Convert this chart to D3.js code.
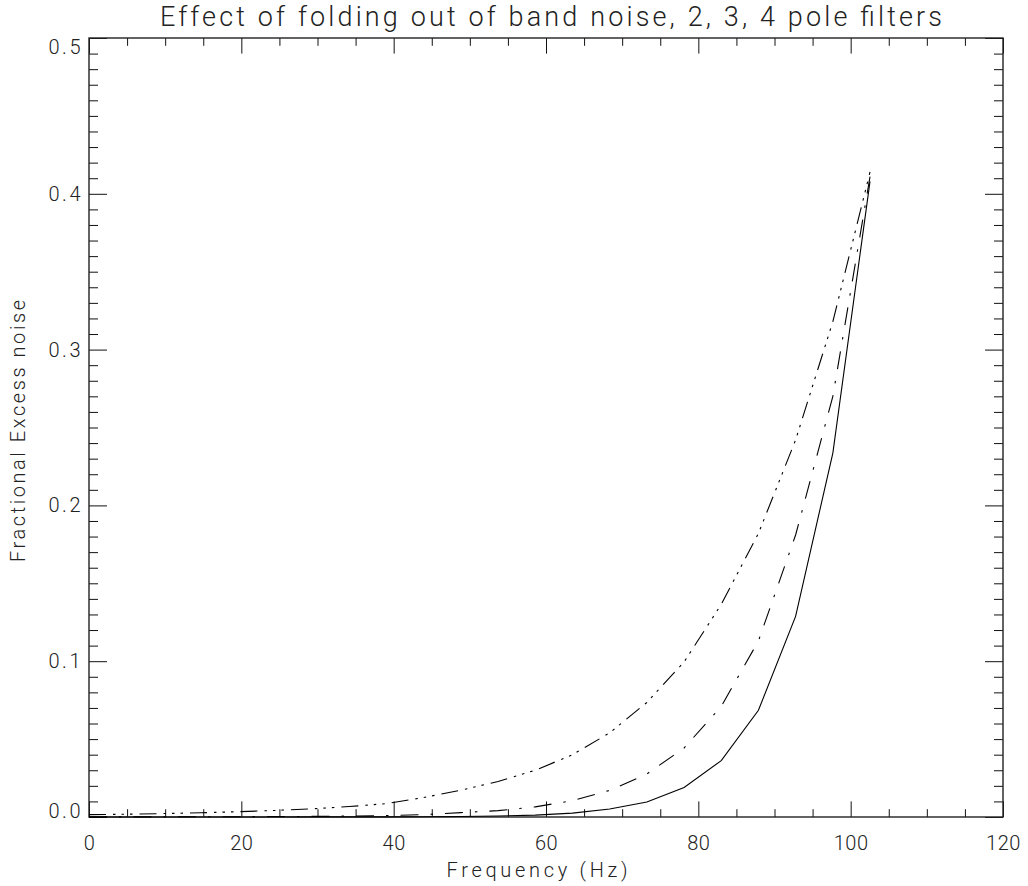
<!DOCTYPE html>
<html lang="en">
<head>
<meta charset="utf-8">
<title>Effect of folding out of band noise</title>
<script src="https://d3js.org/d3.v7.min.js"></script>
<style>
  body { margin: 0; background: #fff; }
  text { font-family: Roboto, "DejaVu Sans", sans-serif; font-weight: 300; fill: #222; }
</style>
</head>
<body>
<div id="chart"></div>
<script>

// frequency points (Hz)
var freq = [0, 4.88, 9.77, 14.65, 19.53, 24.41, 29.30, 34.18, 39.06, 43.95, 48.83,
            53.71, 58.59, 63.48, 68.36, 73.24, 78.13, 83.01, 87.89, 92.77, 97.66, 102.54];

// fractional excess noise, 2 pole filter (dash dot dot dot)
var pole2 = [0.0015, 0.0018, 0.0022, 0.0027, 0.0034, 0.0042, 0.0053, 0.0067, 0.0086, 0.0125, 0.0172,
             0.0228, 0.0300, 0.0400, 0.0540, 0.0735, 0.0995, 0.1365, 0.1820, 0.2420, 0.3180, 0.4140];

// 3 pole filter (dash dot)
var pole3 = [0.0001, 0.0001, 0.0001, 0.0002, 0.0002, 0.0003, 0.0004, 0.0006, 0.0009, 0.0015, 0.0028,
             0.0041, 0.0065, 0.0105, 0.0171, 0.0276, 0.0443, 0.0710, 0.1130, 0.1810, 0.2700, 0.4110];

// 4 pole filter (solid)
var pole4 = [0, 0, 0, 0, 0, 0, 0.0001, 0.0001, 0.0001, 0.0002, 0.0003,
             0.0006, 0.0012, 0.0025, 0.0051, 0.0096, 0.0190, 0.0362, 0.0685, 0.1288, 0.2336, 0.4080];

var xMajor = [0, 20, 40, 60, 80, 100, 120];
var yMajor = [0, 0.1, 0.2, 0.3, 0.4, 0.5];

var margin = {top: 38, right: 25, bottom: 69, left: 89},
    width = 1028 - margin.left - margin.right,
    height = 886 - margin.top - margin.bottom;

var svg = d3.select("#chart")
  .append("svg")
    .attr("width", 1028)
    .attr("height", 886);

var g = svg.append("g")
    .attr("transform", "translate(" + margin.left + "," + margin.top + ")");

var x = d3.scaleLinear().domain([0, 120]).range([0, width]);
var y = d3.scaleLinear().domain([0, 0.5]).range([height, 0]);

// tick lengths (ticks point into the box)
var xTickLen = 15.6, yTickLen = 18;

var xMinor = d3.range(0, 121, 5).filter(function(d) { return d % 20 !== 0; });
var yMinor = d3.range(0, 51).map(function(d) { return d / 100; })
  .filter(function(d) { return Math.round(d * 100) % 10 !== 0; });

function styleAxis(sel) {
  sel.select(".domain").remove();
  sel.selectAll(".tick line").attr("stroke", "#111").attr("stroke-width", 1);
  sel.selectAll("text").attr("font-size", 20).attr("fill", "#222");
}

// bottom axis
g.append("g")
  .attr("transform", "translate(0," + height + ")")
  .call(d3.axisBottom(x).tickValues(xMajor).tickSize(-xTickLen).tickSizeOuter(0)
        .tickPadding(19).tickFormat(d3.format("d")))
  .call(styleAxis)
  .selectAll("text").attr("letter-spacing", 0.5);
g.append("g")
  .attr("transform", "translate(0," + height + ")")
  .call(d3.axisBottom(x).tickValues(xMinor).tickSize(-xTickLen / 2).tickSizeOuter(0).tickFormat(""))
  .call(styleAxis);

// top axis (no labels)
g.append("g")
  .call(d3.axisTop(x).tickValues(xMajor).tickSize(-xTickLen).tickSizeOuter(0).tickFormat(""))
  .call(styleAxis);
g.append("g")
  .call(d3.axisTop(x).tickValues(xMinor).tickSize(-xTickLen / 2).tickSizeOuter(0).tickFormat(""))
  .call(styleAxis);

// left axis
var yAxis = g.append("g")
  .call(d3.axisLeft(y).tickValues(yMajor).tickSize(-yTickLen).tickSizeOuter(0)
        .tickPadding(6).tickFormat(d3.format(".1f")))
  .call(styleAxis);
yAxis.selectAll(".tick text").attr("letter-spacing", 2.5);
// end labels are kept inside the axis range
yAxis.selectAll(".tick text")
  .filter(function(d) { return d === 0; }).attr("dy", "0em");
yAxis.selectAll(".tick text")
  .filter(function(d) { return d === 0.5; }).attr("dy", "0.76em");
g.append("g")
  .call(d3.axisLeft(y).tickValues(yMinor).tickSize(-yTickLen / 2).tickSizeOuter(0).tickFormat(""))
  .call(styleAxis);

// right axis (no labels)
g.append("g")
  .attr("transform", "translate(" + width + ",0)")
  .call(d3.axisRight(y).tickValues(yMajor).tickSize(-yTickLen).tickSizeOuter(0).tickFormat(""))
  .call(styleAxis);
g.append("g")
  .attr("transform", "translate(" + width + ",0)")
  .call(d3.axisRight(y).tickValues(yMinor).tickSize(-yTickLen / 2).tickSizeOuter(0).tickFormat(""))
  .call(styleAxis);

// box
g.append("rect")
  .attr("x", 0).attr("y", 0)
  .attr("width", width).attr("height", height)
  .attr("fill", "none")
  .attr("stroke", "#222")
  .attr("stroke-width", 1.4);

// curves
var series = [
  {values: pole4, dash: null},
  {values: pole3, dash: "18,12,2.5,12"},
  {values: pole2, dash: "17,7,2.5,6,2.5,6,2.5,7"}
];

var line = d3.line()
  .x(function(d, i) { return x(freq[i]); })
  .y(function(d) { return y(d); });

series.forEach(function(s) {
  g.append("path")
    .datum(s.values)
    .attr("fill", "none")
    .attr("stroke", "#000")
    .attr("stroke-width", 1.1)
    .attr("stroke-dasharray", s.dash)
    .attr("d", line);
});

// title and axis titles
svg.append("text")
  .attr("x", 551).attr("y", 26)
  .attr("text-anchor", "middle")
  .attr("font-size", 27)
  .attr("textLength", 782)
  .attr("lengthAdjust", "spacing")
  .text("Effect of folding out of band noise, 2, 3, 4 pole filters");

svg.append("text")
  .attr("x", 537).attr("y", 877)
  .attr("text-anchor", "middle")
  .attr("font-size", 20)
  .attr("textLength", 181)
  .attr("lengthAdjust", "spacing")
  .text("Frequency (Hz)");

svg.append("text")
  .attr("transform", "translate(25,431) rotate(-90)")
  .attr("text-anchor", "middle")
  .attr("font-size", 20)
  .attr("textLength", 262)
  .attr("lengthAdjust", "spacing")
  .text("Fractional Excess noise");

</script>
</body>
</html>
